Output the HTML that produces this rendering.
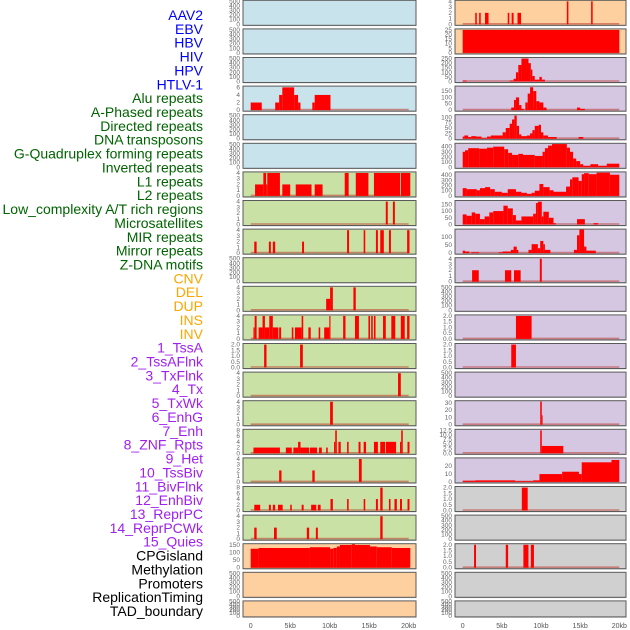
<!DOCTYPE html>
<html><head><meta charset="utf-8"><style>
html,body{margin:0;padding:0;background:#fff;}
svg{display:block;}
</style></head><body>
<svg id="chart" width="630" height="630" viewBox="0 0 630 630" xmlns="http://www.w3.org/2000/svg" font-family="Liberation Sans, sans-serif">
<g id="labels"></g>
<g id="panels"></g>
<g id="xaxis"></g>
</svg>
<script>
const trackLabels = ["AAV2","EBV","HBV","HIV","HPV","HTLV-1","Alu repeats","A-Phased repeats","Directed repeats","DNA transposons","G-Quadruplex forming repeats","Inverted repeats","L1 repeats","L2 repeats","Low_complexity A/T rich regions","Microsatellites","MIR repeats","Mirror repeats","Z-DNA motifs","CNV","DEL","DUP","INS","INV","1_TssA","2_TssAFlnk","3_TxFlnk","4_Tx","5_TxWk","6_EnhG","7_Enh","8_ZNF_Rpts","9_Het","10_TssBiv","11_BivFlnk","12_EnhBiv","13_ReprPC","14_ReprPCWk","15_Quies","CPGisland","Methylation","Promoters","ReplicationTiming","TAD_boundary"];
const labelGroups = [6,13,5,15,5];
const groupColors = ["#0000ff","#006400","#ffa500","#a020f0","#000000"];
const xTickValues = [0,5,10,15,20];
const xTickLabels = ["0","5kb","10kb","15kb","20kb"];

const ticks4 = [0,1,2,3,4], ticks500 = [0,100,200,300,400,500], ticks2 = [0,0.5,1.0,1.5,2.0];

// bars: [startKb, endKb, value]
const barsR0 = [[1.6,1.8,2],[2.1,2.3,2],[2.85,3.3,2],[5.75,5.95,2],[6.25,6.5,2],[7.0,7.45,2],[13.3,13.5,4],[16.4,16.6,4]];
const barsR1 = [[0,20,25]];
const barsR2 = [[0,0.5,10],[6.0,6.5,10],[6.5,6.8,30],[6.8,7.1,100],[7.1,7.5,180],[7.5,8.4,250],[8.4,8.7,200],[8.7,8.9,130],[8.9,9.2,60],[9.2,9.8,20],[9.8,10.1,50],[10.1,10.5,20]];
const barsL3 = [[0,1.4,2],[3.1,3.6,2],[3.6,4.0,4],[4.0,5.5,6],[5.5,6.0,4],[6.0,6.3,2],[7.8,8.1,2],[8.1,10.1,4]];
const barsR3 = [[6.2,6.55,20],[6.55,6.8,80],[6.8,7.2,100],[7.2,7.5,40],[7.5,7.8,10],[8.0,8.3,60],[8.3,8.6,130],[8.6,9.0,180],[9.0,9.4,150],[9.4,9.8,70],[9.8,10.3,60],[10.3,10.7,20],[14.6,15.0,20],[15.0,15.6,10]];
const barsR4 = [[0,0.2,10],[0.2,0.7,15],[0.7,1.1,8],[1.1,1.7,12],[1.7,2.4,10],[2.4,3.1,3],[3.1,3.6,10],[3.6,5.1,15],[5.1,5.5,30],[5.5,6.0,50],[6.0,6.3,70],[6.3,6.6,90],[6.6,6.9,108],[6.9,7.2,60],[7.2,7.5,20],[7.5,8.2,12],[8.2,8.6,15],[8.6,8.9,25],[8.9,9.2,40],[9.2,9.7,60],[9.7,10.0,65],[10.0,10.3,30],[10.3,10.9,15],[10.9,12.0,8],[14.8,15.4,8]];
const barsR5 = [[0,0.3,300],[0.3,0.7,330],[0.7,2.1,370],[2.1,3.1,360],[3.1,3.9,380],[3.9,5.3,400],[5.3,5.8,350],[5.8,6.3,280],[6.3,7.1,240],[7.1,7.7,260],[7.7,9.2,240],[9.2,10.2,220],[10.2,10.5,300],[10.5,10.9,370],[10.9,11.4,420],[11.4,13.3,450],[13.3,13.7,380],[13.7,14.1,300],[14.1,14.5,170],[14.5,15.0,120],[15.0,15.4,60],[15.4,16.3,30],[16.3,17.3,60],[17.3,18.4,30],[18.4,20,70]];
const barsL6 = [[0.55,1.6,2],[1.6,1.95,4],[1.95,2.1,2],[2.1,3.7,4],[4.0,5.0,2],[5.7,7.7,2],[8.1,9.1,2],[11.9,12.4,4],[13.3,14.9,4],[15.6,18.9,4],[19.0,20.2,4]];
const barsR6 = [[0,0.5,150],[0.5,1.8,130],[1.8,2.2,110],[2.2,2.85,150],[2.85,3.5,170],[3.5,4.1,130],[4.1,5.0,80],[5.0,5.75,60],[5.75,6.8,130],[6.8,7.5,80],[7.5,8.2,60],[8.2,8.8,40],[8.8,9.2,60],[9.2,9.8,100],[9.8,10.3,230],[10.3,11.1,170],[11.1,11.6,110],[11.6,13.2,80],[13.2,13.7,180],[13.7,14.0,320],[14.0,14.8,360],[14.8,15.2,290],[15.2,15.5,420],[15.5,16.1,440],[16.1,17.1,420],[17.1,18.8,450],[18.8,20,410]];
const barsL7 = [[17.1,17.35,4],[18.0,18.25,4]];
const barsR7 = [[0,0.5,75],[0.5,1.15,65],[1.15,1.6,90],[1.6,2.2,80],[2.2,2.8,40],[2.8,3.4,60],[3.4,3.9,90],[3.9,5.2,100],[5.2,5.75,140],[5.75,6.4,120],[6.4,6.8,70],[6.8,7.5,30],[7.5,9.0,60],[9.0,9.35,80],[9.35,9.6,160],[9.6,10.1,170],[10.1,10.3,60],[10.3,11.0,95],[11.0,11.6,50],[11.6,11.9,10],[14.6,15.6,40],[16.7,17.3,10]];
const barsL8 = [[0.45,0.75,2],[2.3,2.55,2],[2.8,3.1,2],[6.5,6.75,2],[12.2,12.45,4],[14.3,14.5,4],[15.85,16.1,4],[16.4,16.85,4],[17.5,17.75,4],[19.8,20.1,4]];
const barsR8 = [[0,0.3,15],[0.3,0.85,10],[1.1,2.1,5],[4.6,5.1,5],[5.1,6.15,10],[6.15,6.5,20],[6.5,6.9,40],[6.9,7.1,20],[8.4,8.8,20],[8.8,9.6,55],[9.6,9.9,30],[9.9,10.3,75],[10.3,10.5,55],[10.5,11.2,20],[14.2,14.6,20],[14.6,14.9,110],[14.9,15.5,145],[15.5,15.8,40],[15.8,17.0,15]];
const barsR9 = [[1.2,2.05,2],[5.4,6.2,2],[6.55,7.4,2],[9.85,10.1,4]];
const barsL10 = [[9.55,10.05,2],[10.05,10.4,4],[13.0,13.3,4]];
const barsL11 = [[0.35,0.5,2],[0.5,0.75,4],[1.0,1.5,2],[1.5,1.8,4],[1.8,2.35,2],[2.35,2.8,4],[2.8,3.5,2],[3.6,3.85,2],[5.2,5.4,2],[5.6,6.45,2],[6.45,6.65,4],[7.3,7.6,2],[8.6,8.8,2],[9.3,9.95,2],[9.95,10.1,4],[11.7,12.0,4],[13.2,13.7,4],[14.9,15.1,4],[15.25,15.45,4],[15.6,15.8,4],[16.75,17.1,4],[17.8,18.3,4],[19.0,19.5,4],[19.8,20.1,4]];
const barsR11 = [[6.8,8.8,2]];
const barsL12 = [[1.7,2.0,2],[6.25,6.6,2]];
const barsR12 = [[6.2,6.8,2]];
const barsL13 = [[18.65,19.0,4]];
const barsL14 = [[10.05,10.4,4]];
const barsR14 = [[9.9,10.1,32],[10.1,10.2,13]];
const barsL15 = [[0.35,3.7,2],[4.45,5.2,2],[5.4,6.0,2],[6.0,6.3,4],[6.3,7.4,2],[7.5,8.4,2],[8.65,9.0,2],[9.55,9.75,2],[10.55,10.7,4],[10.7,10.9,8],[11.1,11.4,4],[12.2,12.4,4],[13.65,13.9,4],[14.3,14.6,4],[15.6,16.1,4],[16.4,17.0,4],[17.1,18.4,4],[18.9,19.05,4],[19.05,19.25,8],[19.85,20.1,4]];
const barsR15 = [[9.9,10.1,12.5],[10.1,12.85,4]];
const barsL16 = [[3.6,3.9,2],[7.8,8.1,2],[13.7,14.05,4]];
const barsR16 = [[0,1.6,1.5],[1.6,6.7,2],[6.7,9.0,1],[9.0,9.8,2],[9.8,12.7,10],[12.7,14.85,13],[14.85,15.2,10],[15.2,19.0,25],[19.0,20,28]];
const barsL17 = [[0.45,1.2,2],[2.3,2.55,2],[2.8,3.1,2],[3.45,4.05,2],[5.0,5.2,2],[6.45,6.7,2],[7.65,8.3,2],[8.5,8.85,2],[10.1,10.4,4],[12.2,12.4,4],[14.3,14.5,4],[15.85,16.1,4],[16.4,16.7,8],[17.5,17.7,4],[18.2,18.5,4],[18.9,19.15,4],[19.85,20.1,4]];
const barsR17 = [[7.55,8.3,2]];
const barsL18 = [[0.45,0.75,2],[2.95,3.3,2],[7.1,7.4,2],[8.25,8.5,2],[16.4,16.7,4]];
const barsL19 = [[0,1.0,125],[1.0,7.5,130],[7.5,10.05,135],[10.05,10.45,125],[10.45,10.9,130],[10.9,11.3,140],[11.3,12.8,150],[12.8,13.2,155],[13.2,15.1,150],[15.1,15.95,140],[15.95,17.85,135],[17.85,20.2,130]];
const barsR19 = [[1.45,1.7,2],[5.5,5.8,2],[7.75,8.4,2],[8.7,9.1,2]];

const BLUE="#c8e3eb", GREEN="#c9e1a5", PEACH="#fecf9f", LAV="#d5c6e2", GRAY="#d0d0d0";
// [row, col, bg, ticks, topValue, bars]
const panels = [
 [0,0,BLUE,ticks500,510,null],[0,1,PEACH,ticks4,4.1,barsR0],
 [1,0,BLUE,ticks500,510,null],[1,1,PEACH,[0,5,10,15,20,25],25.6,barsR1],
 [2,0,BLUE,ticks500,510,null],[2,1,LAV,[0,50,100,150,200,250],256,barsR2],
 [3,0,BLUE,[0,2,4,6],6.2,barsL3],[3,1,LAV,[0,50,100,150],185,barsR3],
 [4,0,BLUE,ticks500,510,null],[4,1,LAV,[0,25,50,75,100],110,barsR4],
 [5,0,BLUE,ticks500,510,null],[5,1,LAV,[0,100,200,300,400],455,barsR5],
 [6,0,GREEN,ticks4,4.1,barsL6],[6,1,LAV,[0,100,200,300,400],455,barsR6],
 [7,0,GREEN,ticks4,4.1,barsL7],[7,1,LAV,[0,50,100,150],175,barsR7],
 [8,0,GREEN,ticks4,4.1,barsL8],[8,1,LAV,[0,50,100],145,barsR8],
 [9,0,GREEN,ticks500,510,null],[9,1,LAV,ticks4,4.1,barsR9],
 [10,0,GREEN,ticks4,4.1,barsL10],[10,1,LAV,ticks500,510,null],
 [11,0,GREEN,ticks4,4.1,barsL11],[11,1,LAV,ticks2,2.05,barsR11],
 [12,0,GREEN,ticks2,2.05,barsL12],[12,1,LAV,ticks2,2.05,barsR12],
 [13,0,GREEN,ticks4,4.1,barsL13],[13,1,LAV,ticks500,510,null],
 [14,0,GREEN,ticks4,4.1,barsL14],[14,1,LAV,[0,10,20,30],32.5,barsR14],
 [15,0,GREEN,[0,2,4,6,8],8.2,barsL15],[15,1,LAV,[0,2.5,5,7.5,10,12.5],12.8,barsR15],
 [16,0,GREEN,ticks4,4.1,barsL16],[16,1,LAV,[0,10,20],30,barsR16],
 [17,0,GREEN,[0,2,4,6,8],8.2,barsL17],[17,1,GRAY,ticks2,2.05,barsR17],
 [18,0,GREEN,ticks4,4.1,barsL18],[18,1,GRAY,ticks500,510,null],
 [19,0,PEACH,[0,50,100,150],155,barsL19],[19,1,GRAY,ticks2,2.05,barsR19],
 [20,0,PEACH,ticks500,510,null],[20,1,GRAY,ticks500,510,null],
 [21,0,PEACH,ticks500,510,null],[21,1,GRAY,ticks500,510,null]
];

const NS="http://www.w3.org/2000/svg";
function mk(tag, attrs, parent){const e=document.createElementNS(NS,tag);for(const k in attrs)e.setAttribute(k,attrs[k]);parent.appendChild(e);return e;}
const colGeom = [{x0:243,x1:416,z:250.7,k:7.9},{x0:455,x1:626,z:462.7,k:7.83}];
function xScale(col,v){return colGeom[col].z+v*colGeom[col].k;}
function rowTop(r){return 0.3+r*28.6;}
function rowH(r){return r===21?16:25;}
function fmt(v){return (v%1!==0||v===0&&false)?v.toFixed(1):String(v);}

// labels
const lg=document.getElementById('labels');
let gi=0,cnt=0;
trackLabels.forEach((t,i)=>{
  const y=15+i*(596/43);
  const el=mk('text',{x:203,y:y+5,'text-anchor':'end','font-size':'14',fill:groupColors[gi]},lg);
  el.textContent=t;
  
  
  cnt++; if(cnt>=labelGroups[gi]){gi++;cnt=0;}
});

const pg=document.getElementById('panels');
panels.forEach(p=>{
  const [r,c,bg,ticks,topV,bars]=p;
  const g=geomOf(c), y0=rowTop(r), h=rowH(r), zeroY=y0+h-1, sc=(h-1.5)/topV;
  const grp=mk('g',{},pg);
  
  
  mk('rect',{x:g.x0+0.5,y:y0+0.8,width:g.x1-g.x0,height:h,fill:'#bbb'},grp);
  const bgr=mk('rect',{x:g.x0,y:y0,width:g.x1-g.x0,height:h,fill:bg,stroke:'#5a5a5a','stroke-width':'1'},grp);
  
  
  const isPct = ticks.some(v=>v%1!==0);
  ticks.forEach(v=>{
    const tk=mk('text',{x:g.x0-3,y:zeroY-v*sc+2,'text-anchor':'end','font-size':'6.5',fill:'#666'},grp);
    tk.textContent=isPct?v.toFixed(1):String(v);
    
    
  });
  if(bars){
    const bl=mk('line',{x1:xScale(c,0),x2:xScale(c,20),y1:zeroY-0.5,y2:zeroY-0.5,stroke:'rgba(190,60,50,0.55)','stroke-width':'1.6'},grp);
    
    
    bars.forEach(b=>{
      const xa=xScale(c,b[0]), xb=xScale(c,b[1]), yv=Math.max(y0,zeroY-b[2]*sc);
      const br=mk('rect',{x:xa,y:yv,width:Math.max(0.8,xb-xa),height:zeroY-yv,fill:'#ff0000'},grp);
      
      
    });
  }
});
function geomOf(c){return colGeom[c];}

const xg=document.getElementById('xaxis');
[0,1].forEach(c=>{
  xTickValues.forEach((v,i)=>{
    const t=mk('text',{x:xScale(c,v)+(i===0?0:0),y:628,'text-anchor':'middle','font-size':'7',fill:'#555'},xg);
    t.textContent=xTickLabels[i];
    
    
  });
});
</script>
</body></html>
